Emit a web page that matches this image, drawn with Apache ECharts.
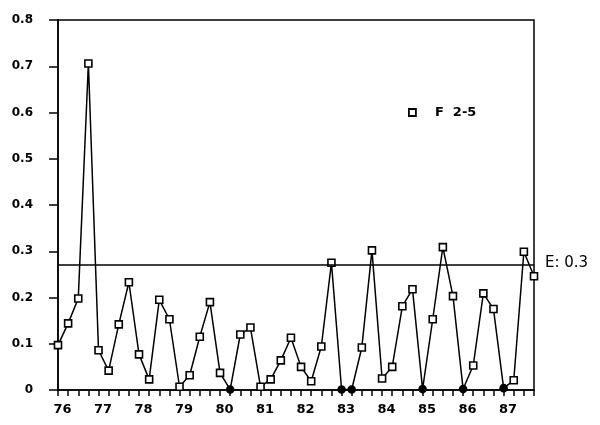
<!DOCTYPE html>
<html>
<head>
<meta charset="utf-8">
<script src="https://cdn.jsdelivr.net/npm/echarts@6/dist/echarts.min.js"></script>
<style>html,body{margin:0;padding:0;background:#fff}#c{width:600px;height:425px}</style>
</head>
<body>
<div id="c"></div>
<script>
// Years shown on the x axis (quarterly data)
var years = ['76','77','78','79','80','81','82','83','84','85','86','87'];
// F 2-5 values, one per quarter from 76 Q1 to 87 Q4
var f25 = [
  0.097, 0.144, 0.198, 0.706,
  0.086, 0.042, 0.142, 0.233,
  0.077, 0.023, 0.195, 0.153,
  0.007, 0.032, 0.115, 0.190,
  0.037, 0.001, 0.120, 0.135,
  0.007, 0.023, 0.064, 0.113,
  0.050, 0.019, 0.094, 0.275,
  0.001, 0.001, 0.092, 0.302,
  0.025, 0.050, 0.181, 0.218,
  0.002, 0.153, 0.309, 0.203,
  0.002, 0.053, 0.209, 0.175,
  0.004, 0.021, 0.299, 0.246
];
var refLevel = 0.267;
var refLabel = 'E: 0.3';
var seriesName = 'F 2-5';

var quarters = [];
years.forEach(function (y) { for (var q = 1; q <= 4; q++) quarters.push(y + 'Q' + q); });

var pts = f25.map(function (v) {
  if (v < 0.005) {
    return { value: v, symbol: 'circle', itemStyle: { color: '#000' } };
  }
  return v;
});

var font = 'DejaVu Sans';
var chart = echarts.init(document.getElementById('c'));
chart.setOption({
  animation: false,
  backgroundColor: '#fff',
  grid: { left: 58, right: 66, top: 20, bottom: 35, show: true, borderColor: '#000', borderWidth: 1.5, backgroundColor: 'transparent' },
  legend: {
    data: [seriesName], left: 408, top: 106, padding: 0, icon: 'rect', itemWidth: 7, itemHeight: 7, itemGap: 10,
    itemStyle: { color: '#fff', borderColor: '#000', borderWidth: 1.8 },
    textStyle: { fontFamily: font, fontWeight: 'bold', fontSize: 13, color: '#000', padding: [0,0,0,14] },
    formatter: function (n) { return 'F  2-5'; }
  },
  xAxis: {
    type: 'category', data: quarters, boundaryGap: false,
    axisLine: { lineStyle: { color: '#000', width: 1.5 } },
    axisTick: { show: true, interval: 0, length: 6, lineStyle: { color: '#000', width: 1.5 } },
    axisLabel: {
      interval: 0, margin: 13, fontFamily: font, fontWeight: 'bold', fontSize: 13, color: '#000',
      padding: [0, 0, 0, 9],
      formatter: function (v) { return /Q1$/.test(v) ? v.slice(0, 2) : ''; }
    },
    splitLine: { show: false }
  },
  yAxis: {
    type: 'value', min: 0, max: 0.8, interval: 0.1,
    axisLine: { show: true, lineStyle: { color: '#000', width: 1.5 } },
    axisTick: { show: true, length: 9, lineStyle: { color: '#000', width: 1.5 } },
    axisLabel: { margin: 25, fontFamily: font, fontWeight: 'bold', fontSize: 12, color: '#000',
      formatter: function (v) { return v === 0 ? '0' : v.toFixed(1); } },
    splitLine: { show: false }
  },
  series: [{
    name: seriesName, type: 'line', data: pts, showAllSymbol: true,
    symbol: 'rect', symbolSize: 7,
    itemStyle: { color: '#fff', borderColor: '#000', borderWidth: 1.6 },
    lineStyle: { color: '#000', width: 1.5 },
    markLine: {
      silent: true, symbol: ['none', 'none'],
      lineStyle: { color: '#000', width: 1.5, type: 'solid' },
      label: { position: 'end', distance: 11, formatter: refLabel, fontFamily: font, fontSize: 15, color: '#000', offset: [0, -2] },
      data: [{ yAxis: refLevel }]
    }
  }]
});
</script>
</body>
</html>
